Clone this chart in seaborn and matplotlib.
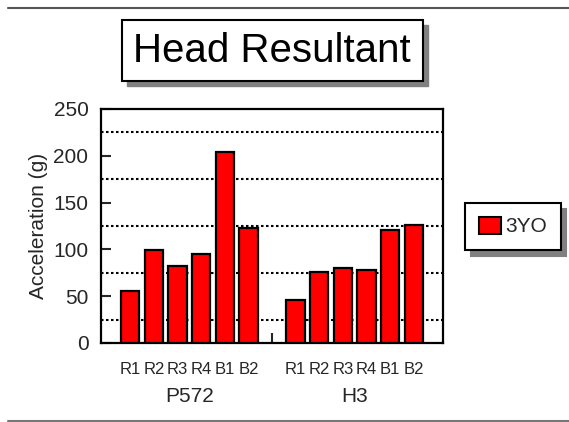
import matplotlib
matplotlib.use("Agg")
import matplotlib.pyplot as plt
import seaborn as sns
import pandas as pd
from matplotlib.patches import Patch, Rectangle
from matplotlib.lines import Line2D

# ---- data ----
groups = ["P572", "H3"]
conditions = ["R1", "R2", "R3", "R4", "B1", "B2"]
p572_values = [56, 99, 82, 95, 204, 123]
h3_values = [46, 76, 80, 78, 121, 126]
series_name = "3YO"
title_text = "Head Resultant"
y_label = "Acceleration (g)"
y_ticks = [0, 50, 100, 150, 200, 250]

sns.set_style("white")
plt.rcParams["font.family"] = ["Liberation Sans", "DejaVu Sans"]

rows = []
for g, vals in zip(groups, [p572_values, h3_values]):
    for c, v in zip(conditions, vals):
        rows.append({"key": f"{g} {c}", "group": g, "cond": c, "value": v})
df = pd.DataFrame(rows)
order = [f"P572 {c}" for c in conditions] + ["gap"] + [f"H3 {c}" for c in conditions]

W, H = 569, 422
fig = plt.figure(figsize=(W / 100, H / 100), dpi=100)
ax = fig.add_axes([101 / W, 1 - 343 / H, (443 - 101) / W, (343 - 109) / H])

sns.barplot(data=df, x="key", y="value", order=order, color="#ff0000",
            saturation=1, width=0.78, edgecolor="black", linewidth=1.6,
            ax=ax, zorder=3)

ax.set_xlim(-1.24, 13.24)
ax.set_ylim(0, 250)
ax.set_yticks(y_ticks)
ax.set_yticklabels([str(t) for t in y_ticks], fontsize=15)
ax.set_yticks([25, 75, 125, 175, 225], minor=True)
ax.grid(False)
ax.grid(True, which="minor", axis="y", linestyle=(0, (1.2, 1.2)), color="black", linewidth=1.5, zorder=1)
ax.tick_params(axis="y", which="major", direction="in", length=7, width=1.5, pad=9, left=True)
ax.tick_params(axis="y", which="minor", length=0)

pos = [0, 1, 2, 3, 4, 5, 7, 8, 9, 10, 11, 12]
ax.set_xticks(pos)
ax.set_xticklabels(conditions + conditions, fontsize=12)
ax.tick_params(axis="x", which="major", length=0, pad=14)
ax.set_xticks([6], minor=True)
ax.tick_params(axis="x", which="minor", direction="in", length=7, width=1.5, bottom=True)

ax.set_xlabel("")
ax.set_ylabel(y_label, fontsize=15, labelpad=4)
for s in ax.spines.values():
    s.set_visible(True)
    s.set_color("black")
    s.set_linewidth(1.6)

# group labels
for gx, g in zip([2.5, 9.5], groups):
    ax.text(gx, -54 / 234 * 250, g, ha="center", va="center", fontsize=15,
            transform=ax.transData, clip_on=False)

# title with shadow box
bx0, bx1, by0, by1 = 121.7, 422.7, 20, 81
fig.add_artist(Rectangle(((bx0 + 5) / W, 1 - (by1 + 5) / H), (bx1 - bx0) / W, (by1 - by0) / H,
                         transform=fig.transFigure, fc="#808080", ec="#808080", lw=1))
fig.add_artist(Rectangle((bx0 / W, 1 - by1 / H), (bx1 - bx0) / W, (by1 - by0) / H,
                         transform=fig.transFigure, fc="white", ec="black", lw=1.5))
fig.text((bx0 + bx1) / 2 / W, 1 - 51 / H, title_text, ha="center", va="center", fontsize=29, color="black")

# legend
handle = Patch(facecolor="#ff0000", edgecolor="black", linewidth=1.5, label=series_name)
leg = ax.legend(handles=[handle], loc="center left", bbox_to_anchor=(465 / W, 1 - 226.5 / H),
                bbox_transform=fig.transFigure, borderaxespad=0, fontsize=15, frameon=True,
                fancybox=False, edgecolor="black", framealpha=1, handlelength=1.1,
                handleheight=0.9, handletextpad=0.2, borderpad=0.65,
                shadow={"ox": 4, "oy": -4, "facecolor": "#808080", "edgecolor": "#808080", "alpha": 1})
leg.get_frame().set_linewidth(1.5)

# horizontal rules
fig.add_artist(Line2D([8 / W, 1], [1 - 8 / H] * 2, color="#555555", lw=1.5))
fig.add_artist(Line2D([8 / W, 1], [1 - 420.5 / H] * 2, color="#777777", lw=1.5))

fig.savefig("out.png", dpi=100)
